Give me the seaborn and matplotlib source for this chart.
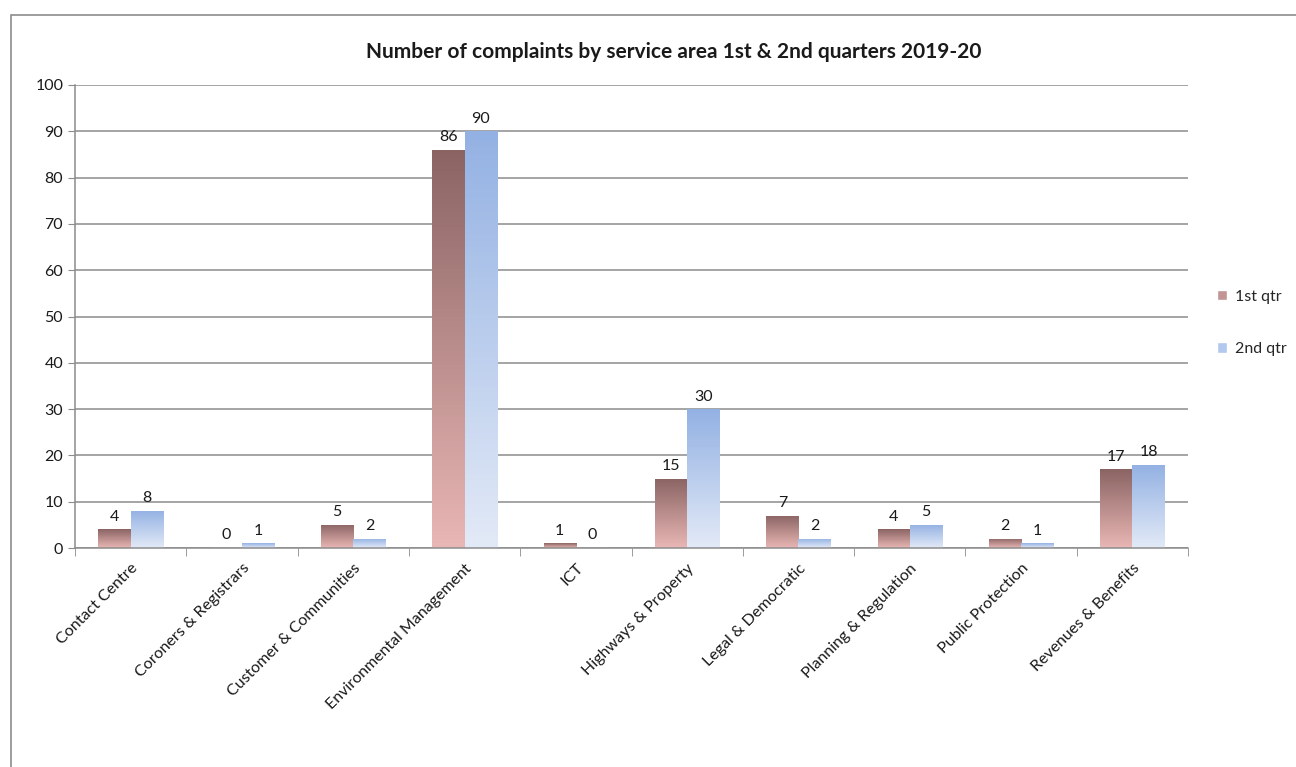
import numpy as np
import pandas as pd
import seaborn as sns
import matplotlib.pyplot as plt
from matplotlib.patches import Rectangle
from matplotlib.colors import LinearSegmentedColormap

# Data
areas = ['Contact Centre', 'Coroners & Registrars', 'Customer & Communities',
         'Environmental Management', 'ICT', 'Highways & Property',
         'Legal & Democratic', 'Planning & Regulation', 'Public Protection',
         'Revenues & Benefits']
q1 = [4, 0, 5, 86, 1, 15, 7, 4, 2, 17]
q2 = [8, 1, 2, 90, 0, 30, 2, 5, 1, 18]
quarters = ['1st qtr', '2nd qtr']

df = pd.DataFrame({
    'area': areas * 2,
    'count': q1 + q2,
    'quarter': [quarters[0]] * len(areas) + [quarters[1]] * len(areas),
})

sns.set_style("white")
plt.rcParams['font.family'] = ['Lato', 'DejaVu Sans']

fig = plt.figure(figsize=(12.96, 7.67), dpi=100)
ax = fig.add_axes([0.0579, 0.2855, 0.8588, 0.6037])

# outer chart border (cut off at right/bottom like the screenshot)
fig.patches.append(Rectangle((11 / 1296, -0.1), 2, 1 - 15 / 767 + 0.1,
                             transform=fig.transFigure, fill=False,
                             edgecolor='#8c8c8c', linewidth=1.2))

legend_cols = ['#c29494', '#b3c8ee']
sns.barplot(data=df, x='area', y='count', hue='quarter', order=areas,
            hue_order=quarters, palette=legend_cols, width=0.58,
            saturation=1, legend=False, ax=ax)

gradients = [
    LinearSegmentedColormap.from_list('q1', ['#e9b7b5', '#8a6463']),
    LinearSegmentedColormap.from_list('q2', ['#e3eaf7', '#93b1e3']),
]
grad = np.linspace(0, 1, 256).reshape(-1, 1)

ax.set_ylim(0, 100)
ax.set_xlim(-0.5, len(areas) - 0.5)
for cont, cmap in zip(ax.containers, gradients):
    for bar in cont:
        x, w, h = bar.get_x(), bar.get_width(), bar.get_height()
        if h <= 0:
            continue
        bar.set_facecolor('none')
        bar.set_edgecolor('none')
        im = ax.imshow(grad, cmap=cmap, origin='lower', aspect='auto',
                       extent=[x, x + w, 0, h], zorder=2)
        im.set_clip_path(bar)
    ax.bar_label(cont, padding=4, fontsize=11.5, color='#1a1a1a')
ax.set_ylim(0, 100)
ax.set_xlim(-0.5, len(areas) - 0.5)

ax.set_yticks(range(0, 101, 10))
ax.yaxis.grid(True, color='#8c8c8c', linewidth=1.1)
ax.set_axisbelow(True)
for side in ['top', 'right']:
    ax.spines[side].set_visible(False)
for side in ['left', 'bottom']:
    ax.spines[side].set_color('#8c8c8c')
    ax.spines[side].set_linewidth(1.1)

ax.tick_params(axis='y', left=True, length=5, color='#8c8c8c', labelsize=11.5,
               labelcolor='#1a1a1a')
ax.set_xticks(np.arange(-0.5, len(areas), 1), minor=True)
ax.tick_params(axis='x', which='minor', bottom=True, length=6, color='#8c8c8c')
ax.tick_params(axis='x', which='major', bottom=False, labelsize=11.5,
               labelcolor='#1a1a1a', pad=6)
ax.set_xticks(range(len(areas)))
ax.set_xticklabels(areas, rotation=45, ha='right', rotation_mode='anchor')
ax.set_xlabel('')
ax.set_ylabel('')

fig.text(674 / 1296, 1 - 52 / 767, 'Number of complaints by service area 1st & 2nd quarters 2019-20',
         ha='center', va='center', fontsize=15, fontweight='bold', color='#1a1a1a')

handles = [Rectangle((0, 0), 1, 1, facecolor=c) for c in legend_cols]
fig.legend(handles, quarters, loc='center left', frameon=False,
           bbox_to_anchor=(1203 / 1296, 1 - 323 / 767), fontsize=11.5,
           handlelength=0.6, handleheight=0.6, handletextpad=0.5,
           labelspacing=2.4)

plt.savefig('out.png', dpi=100, facecolor='white')
plt.close()
